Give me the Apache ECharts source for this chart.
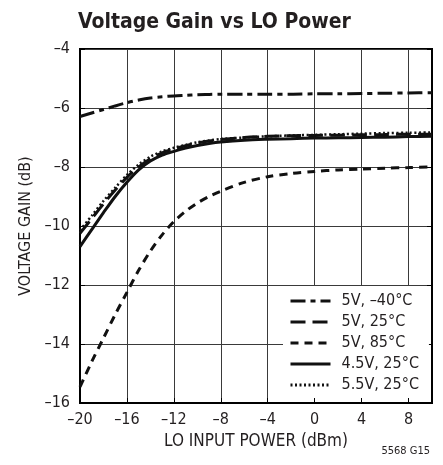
<!DOCTYPE html>
<html>
<head>
<meta charset="utf-8">
<script src="https://cdn.jsdelivr.net/npm/echarts@6/dist/echarts.min.js"></script>
<style>
  html, body { margin: 0; padding: 0; background: #fff; }
  #chart { width: 443px; height: 465px; }
</style>
</head>
<body>
<div id="chart"></div>
<script>
// LO input power (dBm) and the measured voltage gain (dB) per condition
const loPower = [-20, -19, -18, -17, -16, -15, -14, -13, -12, -11, -10, -9, -8, -6, -4, -2, 0, 2, 4, 6, 8, 10]
const gain5vM40 = [-6.29, -6.17, -6.05, -5.93, -5.82, -5.73, -5.66, -5.62, -5.59, -5.57, -5.55, -5.54, -5.53, -5.53, -5.53, -5.53, -5.52, -5.52, -5.51, -5.5, -5.49, -5.48]
const gain5v25 = [-10.25, -9.75, -9.25, -8.78, -8.35, -8.0, -7.72, -7.52, -7.39, -7.28, -7.19, -7.12, -7.07, -7.0, -6.96, -6.94, -6.93, -6.92, -6.91, -6.9, -6.89, -6.89]
const gain5v85 = [-15.45, -14.6, -13.8, -13.0, -12.25, -11.5, -10.85, -10.3, -9.85, -9.5, -9.22, -9.0, -8.82, -8.52, -8.33, -8.22, -8.15, -8.1, -8.07, -8.04, -8.02, -8.0]
const gain45v25 = [-10.7, -10.12, -9.55, -9.0, -8.52, -8.1, -7.8, -7.6, -7.47, -7.36, -7.27, -7.2, -7.15, -7.09, -7.06, -7.04, -7.02, -7.01, -7.0, -6.99, -6.97, -6.96]
const gain55v25 = [-10.14, -9.65, -9.15, -8.7, -8.27, -7.92, -7.65, -7.47, -7.35, -7.25, -7.16, -7.1, -7.05, -7.0, -6.96, -6.93, -6.91, -6.89, -6.87, -6.85, -6.84, -6.83]
const seriesNames = ['5V, \u201340\u00b0C', '5V, 25\u00b0C', '5V, 85\u00b0C', '4.5V, 25\u00b0C', '5.5V, 25\u00b0C']

const FONT = "'Liberation Sans Narrow', 'DejaVu Sans Condensed', 'Roboto', sans-serif"
const INK = '#231f20'

function pairs(ys) {
  return loPower.map((x, i) => [x, ys[i]])
}

// dash style per curve, kept apart from the data
const styles = [
  { type: [15, 5, 5, 5], width: 3 },
  { type: [15, 7], width: 3 },
  { type: [8, 6], width: 3 },
  { type: 'solid', width: 3 },
  { type: [2, 2.5], width: 2.5 }
]
const curves = [gain5vM40, gain5v25, gain5v85, gain45v25, gain55v25]

const minus = v => String(v).replace('-', '\u2013')

const chart = echarts.init(document.getElementById('chart'))
chart.setOption({
  backgroundColor: '#fff',
  animation: false,
  color: ['#111'],
  title: {
    text: 'Voltage Gain vs LO Power',
    left: 73,
    top: 7,
    textStyle: { fontFamily: FONT, fontWeight: 'bold', fontSize: 21, color: INK }
  },
  grid: { left: 80, right: 11, top: 49, bottom: 62, show: true, borderColor: '#000', borderWidth: 2 },
  legend: {
    orient: 'vertical',
    left: 283,
    top: 286,
    padding: [7, 10, 5, 6],
    backgroundColor: '#fff',
    itemWidth: 40,
    itemHeight: 14,
    itemGap: 5,
    itemStyle: { opacity: 0 },
    lineStyle: { width: 3 },
    textStyle: { fontFamily: FONT, fontSize: 16, color: INK, padding: [0, 0, 0, 6] },
    data: seriesNames
  },
  xAxis: {
    type: 'value',
    min: -20,
    max: 10,
    interval: 4,
    name: 'LO INPUT POWER (dBm)',
    nameLocation: 'middle',
    nameGap: 28,
    nameTextStyle: { fontFamily: FONT, fontSize: 17, color: INK },
    axisLine: { onZero: false, lineStyle: { color: '#000', width: 2 } },
    axisTick: { inside: true, length: 5, lineStyle: { color: '#000' } },
    axisLabel: { fontFamily: FONT, fontSize: 16, color: INK, margin: 9, showMaxLabel: false, formatter: minus },
    splitLine: { lineStyle: { color: '#3a3a3a', width: 1 } }
  },
  yAxis: [{
    type: 'value',
    min: -16,
    max: -4,
    interval: 2,
    name: 'VOLTAGE GAIN (dB)',
    nameLocation: 'middle',
    nameGap: 46,
    nameTextStyle: { fontFamily: FONT, fontSize: 16, color: INK },
    axisLine: { onZero: false, lineStyle: { color: '#000', width: 2 } },
    axisTick: { inside: true, length: 5, lineStyle: { color: '#000' } },
    axisLabel: { fontFamily: FONT, fontSize: 16, color: INK, margin: 10, formatter: minus },
    splitLine: { lineStyle: { color: '#3a3a3a', width: 1 } }
  }, {
    type: 'value',
    min: -16,
    max: -4,
    interval: 2,
    position: 'right',
    axisLine: { show: true, onZero: false, lineStyle: { color: '#000', width: 2 } },
    axisTick: { inside: true, length: 5, lineStyle: { color: '#000' } },
    axisLabel: { show: false },
    splitLine: { show: false }
  }],
  graphic: [{
    type: 'text',
    right: 13,
    top: 446,
    style: { text: '5568 G15', fontFamily: FONT, fontSize: 11, fill: INK }
  }],
  series: curves.map((ys, i) => ({
    name: seriesNames[i],
    type: 'line',
    data: pairs(ys),
    smooth: 0.3,
    symbol: 'none',
    yAxisIndex: 0,
    z: 2 + i,
    itemStyle: { color: '#111' },
    lineStyle: { color: '#111', width: styles[i].width, type: styles[i].type, cap: 'butt' }
  }))
})
</script>
</body>
</html>
